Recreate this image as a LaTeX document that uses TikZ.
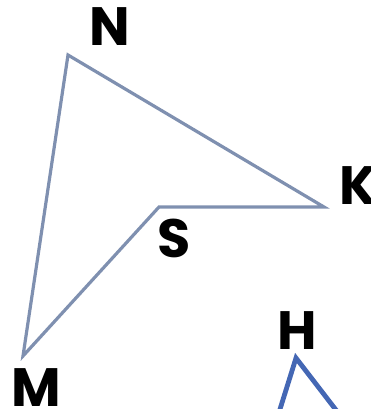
\documentclass[tikz,border=0pt]{standalone}
\usepackage{fontspec}
\setmainfont{Poppins}
\usetikzlibrary{positioning}
\definecolor{quadline}{RGB}{127,144,176}
\definecolor{triline}{RGB}{68,103,180}
\tikzset{
  vlabel/.style={font=\bfseries\fontsize{54}{54}\selectfont, inner sep=0pt, text=black},
  quadedge/.style={draw=quadline, line width=3.2pt, line join=miter},
  triedge/.style={draw=triline, line width=4.8pt, line join=miter}
}
\begin{document}
\begin{tikzpicture}[x=1pt, y=-1pt]
\useasboundingbox (0,0) rectangle (370,409);
\clip (0,0) rectangle (370,409);
% vertices
\coordinate (n) at (68,55);
\coordinate (k) at (324,207);
\coordinate (s) at (159,207);
\coordinate (m) at (23,356);
\coordinate (h) at (296,358);
\coordinate (hl) at (276,422);
\coordinate (hr) at (346,423);
% labels
\node[vlabel] (nlab) at (110,27) {N};
\node[vlabel] (klab) at (358,186) {K};
\node[vlabel] (slab) at (174,238) {S};
\node[vlabel] (mlab) at (36,388) {M};
\node[vlabel] (hlab) at (297,331) {H};
% shapes
\draw[quadedge] (n) -- (k) -- (s) -- (m) -- cycle;
\draw[triedge] (hl) -- (h) -- (hr);
\end{tikzpicture}
\end{document}
